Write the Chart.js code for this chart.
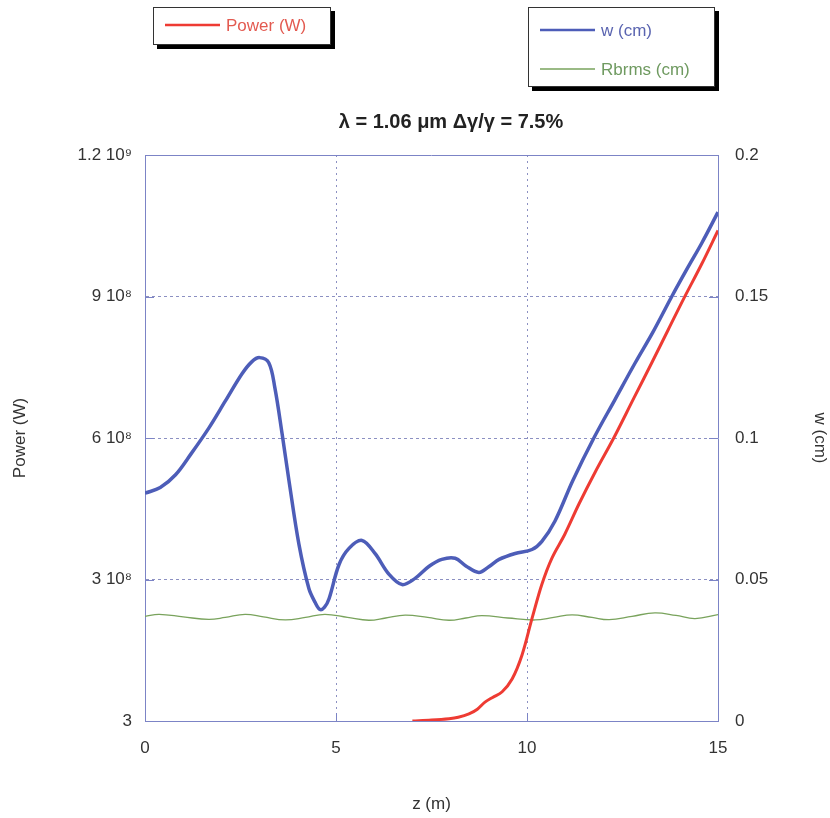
<!DOCTYPE html>
<html>
<head>
<meta charset="utf-8">
<script src="https://cdn.jsdelivr.net/npm/chart.js@4.4.0/dist/chart.umd.min.js"></script>
<style>
  body { margin: 0; background: #fff; }
  canvas { display: block; }
</style>
</head>
<body>
<canvas id="fel" width="830" height="818"></canvas>
<script>
// w (cm) along z (m)
const zW = [0, 0.4, 0.8, 1.2, 1.67, 2.1, 2.54, 2.8, 3.0, 3.24, 3.4, 3.59, 3.77, 4.03, 4.29, 4.45, 4.58, 4.7, 4.82, 5.08, 5.34, 5.68, 6.02, 6.39, 6.73, 7.07, 7.43, 7.77, 8.12, 8.4, 8.74, 9.0, 9.27, 9.69, 10.13, 10.39, 10.73, 11.2, 11.75, 12.3, 12.83, 13.3, 13.79, 14.2, 14.58, 15];
const wCm = [0.0805, 0.0825, 0.087, 0.0943, 0.1035, 0.113, 0.1227, 0.127, 0.1284, 0.1266, 0.1177, 0.1014, 0.0848, 0.0624, 0.0468, 0.042, 0.0394, 0.0402, 0.0433, 0.0553, 0.061, 0.0638, 0.0592, 0.0518, 0.0482, 0.0504, 0.0546, 0.0571, 0.0575, 0.0548, 0.0525, 0.0545, 0.0571, 0.0592, 0.0606, 0.0635, 0.0706, 0.085, 0.100, 0.1135, 0.1265, 0.1375, 0.150, 0.160, 0.169, 0.1798];

// power (W)
const zP = [7.0, 7.5, 7.96, 8.2, 8.48, 8.7, 8.9, 9.1, 9.35, 9.61, 9.87, 10.13, 10.39, 10.65, 10.99, 11.36, 11.8, 12.27, 12.8, 13.27, 13.7, 14.1, 14.58, 15];
const power = [0, 0.02e8, 0.05e8, 0.08e8, 0.15e8, 0.25e8, 0.4e8, 0.5e8, 0.62e8, 0.89e8, 1.4e8, 2.17e8, 2.9e8, 3.45e8, 3.96e8, 4.6e8, 5.3e8, 6.0e8, 6.85e8, 7.6e8, 8.3e8, 8.95e8, 9.7e8, 10.4e8];

// Rbrms (cm)
const zR = [0, 0.37, 1.0, 1.67, 2.1, 2.62, 3.1, 3.67, 4.2, 4.71, 5.3, 5.86, 6.3, 6.81, 7.4, 7.96, 8.4, 8.82, 9.5, 10.21, 10.7, 11.18, 11.7, 12.15, 12.75, 13.35, 13.9, 14.4, 15];
const rbrms = [0.0370, 0.0377, 0.0368, 0.0359, 0.0366, 0.0377, 0.0368, 0.0357, 0.0366, 0.0377, 0.0366, 0.0356, 0.0364, 0.0374, 0.0366, 0.0356, 0.0364, 0.0372, 0.0364, 0.0357, 0.0366, 0.0375, 0.0366, 0.0358, 0.0370, 0.0382, 0.0373, 0.0362, 0.0376];

// tick labels
const zTicks = [0, 5, 10, 15];
const powerTicks = [0, 3e8, 6e8, 9e8, 1.2e9];
const powerTickLabels = ['3', '3 10\u2078', '6 10\u2078', '9 10\u2078', '1.2 10\u2079'];
const wTicks = [0, 0.05, 0.1, 0.15, 0.2];
const wTickLabels = ['0', '0.05', '0.1', '0.15', '0.2'];

const titleText = '\u03bb = 1.06 \u03bcm \u0394\u03b3/\u03b3 = 7.5%';

const axisColor = '#7c84c6';
const gridColor = '#8c90c2';
const textColor = '#333';
const FONT = '"Liberation Sans", Arial, sans-serif';

const toXY = (xs, ys) => xs.map((x, i) => ({ x: x, y: ys[i] }));

function legendBox(ctx, x, y, w, h) {
    ctx.fillStyle = '#000';
    ctx.fillRect(x + 4, y + 4, w, h);
    ctx.fillStyle = '#fff';
    ctx.fillRect(x, y, w, h);
    ctx.strokeStyle = '#333';
    ctx.lineWidth = 1;
    ctx.strokeRect(x + 0.5, y + 0.5, w - 1, h - 1);
}

function legendItem(ctx, ds, x, y, text) {
    ctx.strokeStyle = ds.borderColor;
    ctx.lineWidth = Math.min(ds.borderWidth, 2.5);
    ctx.beginPath();
    ctx.moveTo(x, y);
    ctx.lineTo(x + 55, y);
    ctx.stroke();
    ctx.fillStyle = text;
    ctx.font = '17px ' + FONT;
    ctx.textAlign = 'left';
    ctx.textBaseline = 'middle';
    ctx.fillText(ds.label, x + 61, y + 1);
}

const decor = {
    id: 'decor',
    afterDraw(chart) {
        const ctx = chart.ctx;
        const a = chart.chartArea;
        const sx = chart.scales.x, sy = chart.scales.y, sy1 = chart.scales.y1;
        ctx.save();

        // top frame line
        ctx.strokeStyle = axisColor;
        ctx.lineWidth = 1;
        ctx.beginPath();
        ctx.moveTo(a.left, a.top + 0.5);
        ctx.lineTo(a.right, a.top + 0.5);
        ctx.stroke();

        // short inward tick marks
        ctx.beginPath();
        powerTicks.slice(1, -1).forEach(v => {
            const p = Math.round(sy.getPixelForValue(v)) + 0.5;
            ctx.moveTo(a.left, p); ctx.lineTo(a.left + 9, p);
        });
        wTicks.slice(1, -1).forEach(v => {
            const p = Math.round(sy1.getPixelForValue(v)) + 0.5;
            ctx.moveTo(a.right, p); ctx.lineTo(a.right - 9, p);
        });
        zTicks.slice(1, -1).forEach(v => {
            const p = Math.round(sx.getPixelForValue(v)) + 0.5;
            ctx.moveTo(p, a.bottom); ctx.lineTo(p, a.bottom - 8);
        });
        ctx.stroke();

        // title
        ctx.fillStyle = '#222';
        ctx.font = 'bold 20px ' + FONT;
        ctx.textAlign = 'center';
        ctx.textBaseline = 'middle';
        ctx.fillText(titleText, 451, 122);

        // legend boxes
        const ds = chart.data.datasets;
        legendBox(ctx, 153, 7, 178, 38);
        legendItem(ctx, ds[0], 165, 25, '#e35a50');
        legendBox(ctx, 528, 7, 187, 80);
        legendItem(ctx, ds[1], 540, 30, '#5a64b0');
        legendItem(ctx, ds[2], 540, 69, '#6f9a60');

        ctx.restore();
    }
};

new Chart(document.getElementById('fel'), {
    type: 'line',
    data: {
        datasets: [
            {
                label: 'Power (W)',
                data: toXY(zP, power),
                yAxisID: 'y',
                borderColor: '#ee3b33',
                borderWidth: 3,
                pointRadius: 0,
                tension: 0.35,
                fill: false
            },
            {
                label: 'w (cm)',
                data: toXY(zW, wCm),
                yAxisID: 'y1',
                borderColor: '#4d5db8',
                borderWidth: 3.5,
                pointRadius: 0,
                tension: 0.35,
                fill: false
            },
            {
                label: 'Rbrms (cm)',
                data: toXY(zR, rbrms),
                yAxisID: 'y1',
                borderColor: '#79a35c',
                borderWidth: 1.3,
                pointRadius: 0,
                tension: 0.4,
                fill: false
            }
        ]
    },
    options: {
        responsive: false,
        animation: false,
        layout: { padding: { top: 155, left: 0, right: 0, bottom: 0 } },
        plugins: {
            legend: { display: false },
            title: { display: false },
            tooltip: { enabled: false }
        },
        scales: {
            x: {
                type: 'linear',
                min: 0,
                max: 15,
                afterFit: s => { s.height = 97; },
                afterBuildTicks: s => { s.ticks = zTicks.map(v => ({ value: v })); },
                ticks: {
                    padding: 17,
                    color: textColor,
                    font: { family: FONT, size: 17 },
                    maxRotation: 0
                },
                grid: {
                    drawTicks: false,
                    color: ctx => (ctx.tick.value === 0 || ctx.tick.value === 15) ? 'rgba(0,0,0,0)' : gridColor,
                    lineWidth: 1
                },
                border: { color: axisColor, dash: [2, 4] },
                title: {
                    display: true,
                    text: 'z (m)',
                    color: textColor,
                    font: { family: FONT, size: 17 },
                    padding: { top: 0, bottom: 3 }
                }
            },
            y: {
                position: 'left',
                min: 0,
                max: 1.2e9,
                afterFit: s => { s.width = 145; },
                afterBuildTicks: s => { s.ticks = powerTicks.map(v => ({ value: v })); },
                ticks: {
                    padding: 13,
                    color: textColor,
                    font: { family: FONT, size: 17 },
                    callback: (v, i) => powerTickLabels[i]
                },
                grid: {
                    drawTicks: false,
                    color: ctx => (ctx.tick.value === 0 || ctx.tick.value === 1.2e9) ? 'rgba(0,0,0,0)' : gridColor,
                    lineWidth: 1
                },
                border: { color: axisColor, dash: [3, 3] },
                title: {
                    display: true,
                    text: 'Power (W)',
                    color: textColor,
                    font: { family: FONT, size: 17 },
                    padding: { top: 10, bottom: 0 }
                }
            },
            y1: {
                position: 'right',
                min: 0,
                max: 0.2,
                afterFit: s => { s.width = 112; },
                afterBuildTicks: s => { s.ticks = wTicks.map(v => ({ value: v })); },
                ticks: {
                    padding: 17,
                    color: textColor,
                    font: { family: FONT, size: 17 },
                    callback: (v, i) => wTickLabels[i]
                },
                grid: { display: false, drawTicks: false },
                border: { color: axisColor },
                title: {
                    display: true,
                    text: 'w (cm)',
                    color: textColor,
                    font: { family: FONT, size: 17 },
                    padding: { top: 0, bottom: 0 }
                }
            }
        }
    },
    plugins: [decor]
});
</script>
</body>
</html>
